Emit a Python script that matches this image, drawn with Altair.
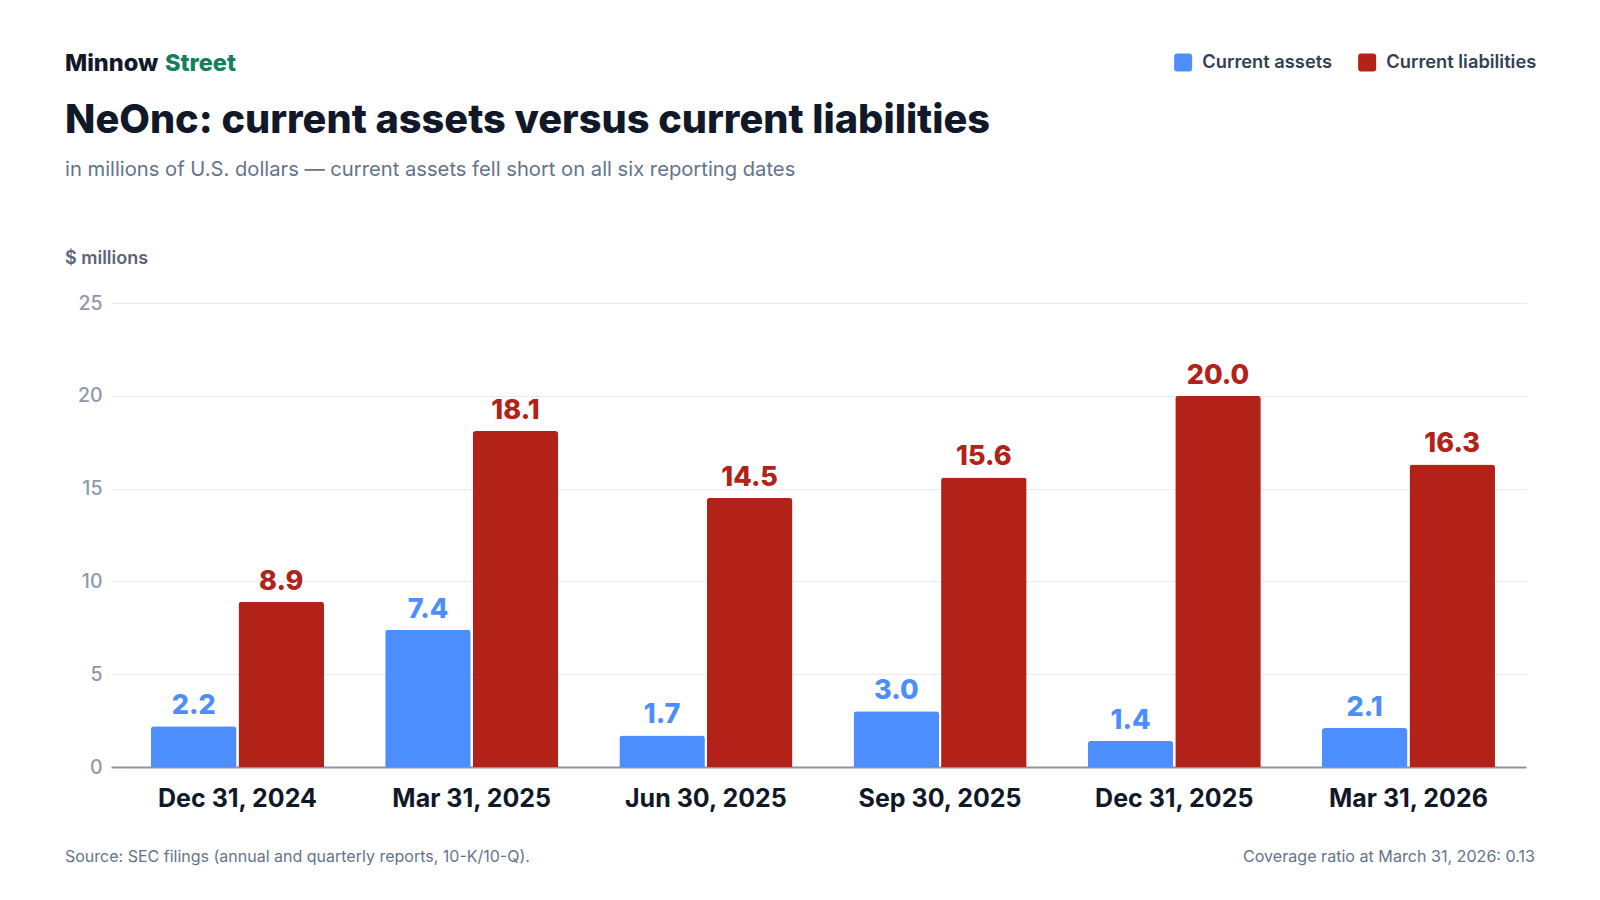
import altair as alt
import pandas as pd

dates = ["Dec 31, 2024", "Mar 31, 2025", "Jun 30, 2025", "Sep 30, 2025", "Dec 31, 2025", "Mar 31, 2026"]
current_assets = [2.2, 7.4, 1.7, 3.0, 1.4, 2.1]
current_liabilities = [8.9, 18.1, 14.5, 15.6, 20.0, 16.3]
series_names = ["Current assets", "Current liabilities"]
series_colors = ["#4D8EFF", "#B22218"]
y_ticks = [0, 5, 10, 15, 20, 25]

rows = []
for d, a, l in zip(dates, current_assets, current_liabilities):
    rows.append({"date": d, "series": series_names[0], "value": a})
    rows.append({"date": d, "series": series_names[1], "value": l})
df = pd.DataFrame(rows)

FONT = "Inter"
W, H = 1415, 464

rounded_square = "M-0.67,-1H0.67Q1,-1 1,-0.67V0.67Q1,1 0.67,1H-0.67Q-1,1 -1,0.67V-0.67Q-1,-1 -0.67,-1Z"

x_enc = alt.X("date:N", sort=dates, title=None,
              scale=alt.Scale(paddingInner=0.261, paddingOuter=0.1516, align=0.563),
              axis=alt.Axis(labelAngle=0, labelFont=FONT, labelFontSize=25, labelFontWeight=700,
                            labelColor="#111827", labelBaseline="alphabetic", labelPadding=39,
                            ticks=False, tickSize=0, domain=True, domainColor="#8A94A6",
                            domainWidth=2, grid=False))
xo_enc = alt.XOffset("series:N", sort=series_names, scale=alt.Scale(paddingInner=0.023))
color_enc = alt.Color("series:N", sort=series_names,
                      scale=alt.Scale(domain=series_names, range=series_colors),
                      legend=alt.Legend(title=None, orient="none", direction="horizontal",
                                        legendX=1063, legendY=-250, padding=0,
                                        symbolType=rounded_square, symbolSize=324,
                                        symbolOpacity=1, symbolStrokeWidth=0,
                                        labelFont=FONT, labelFontSize=18.3, labelFontWeight=600,
                                        labelColor="#334155", labelOffset=10, columnPadding=25))

base = alt.Chart(df)

bars = base.mark_bar(cornerRadiusTopLeft=3, cornerRadiusTopRight=3).encode(
    x=x_enc,
    xOffset=xo_enc,
    y=alt.Y("value:Q", title=None,
            scale=alt.Scale(domain=[0, 25], nice=False),
            axis=alt.Axis(values=y_ticks, labelFont=FONT, labelFontSize=19.5, labelFontWeight=500,
                          labelColor="#8F99AB", labelPadding=9, ticks=False, domain=False,
                          grid=True, gridColor="#E8EBF0", gridWidth=1.2)),
    color=color_enc,
)

labels = base.mark_text(font=FONT, fontSize=27, fontWeight=800, baseline="alphabetic",
                        align="center", dy=-12).encode(
    x=alt.X("date:N", sort=dates),
    xOffset=alt.XOffset("series:N", sort=series_names),
    y=alt.Y("value:Q"),
    text=alt.Text("value:Q", format=".1f"),
    color=alt.Color("series:N", sort=series_names, legend=None),
)

one = alt.Data(values=[{"k": 1}])

def note(text, x, y, size, weight, color, align="left"):
    return alt.Chart(one).mark_text(font=FONT, fontSize=size, fontWeight=weight, color=color,
                                    align=align, baseline="alphabetic").encode(
        x=alt.value(x), y=alt.value(y), text=alt.value(text))

brand1 = note("Minnow", -46, -232, 23.5, 800, "#111827")
brand2 = note("Street", 54, -232, 23.5, 800, "#137F5F")
title = note("NeOnc: current assets versus current liabilities", -46, -170, 39.7, 800, "#111827")
subtitle = note("in millions of U.S. dollars \u2014 current assets fell short on all six reporting dates",
                -46, -127, 20.2, 400, "#64748B")
yunit = note("$ millions", -46, -39, 18, 600, "#5B6478")
source = note("Source: SEC filings (annual and quarterly reports, 10-K/10-Q).", -46, 559, 16, 400, "#64748B")
coverage = note("Coverage ratio at March 31, 2026: 0.13", 1424, 559, 16.1, 400, "#64748B", align="right")

chart = alt.layer(bars, labels, brand1, brand2, title, subtitle, yunit, source, coverage).resolve_scale(
    color="shared"
).properties(
    width=W, height=H,
    background="white",
    autosize=alt.AutoSizeParams(type="none"),
    padding={"left": 103, "top": 295, "right": 66, "bottom": 125},
).configure_view(stroke="transparent", strokeWidth=0)

chart.save("out.html", embed_options={"renderer": "svg", "actions": False})
